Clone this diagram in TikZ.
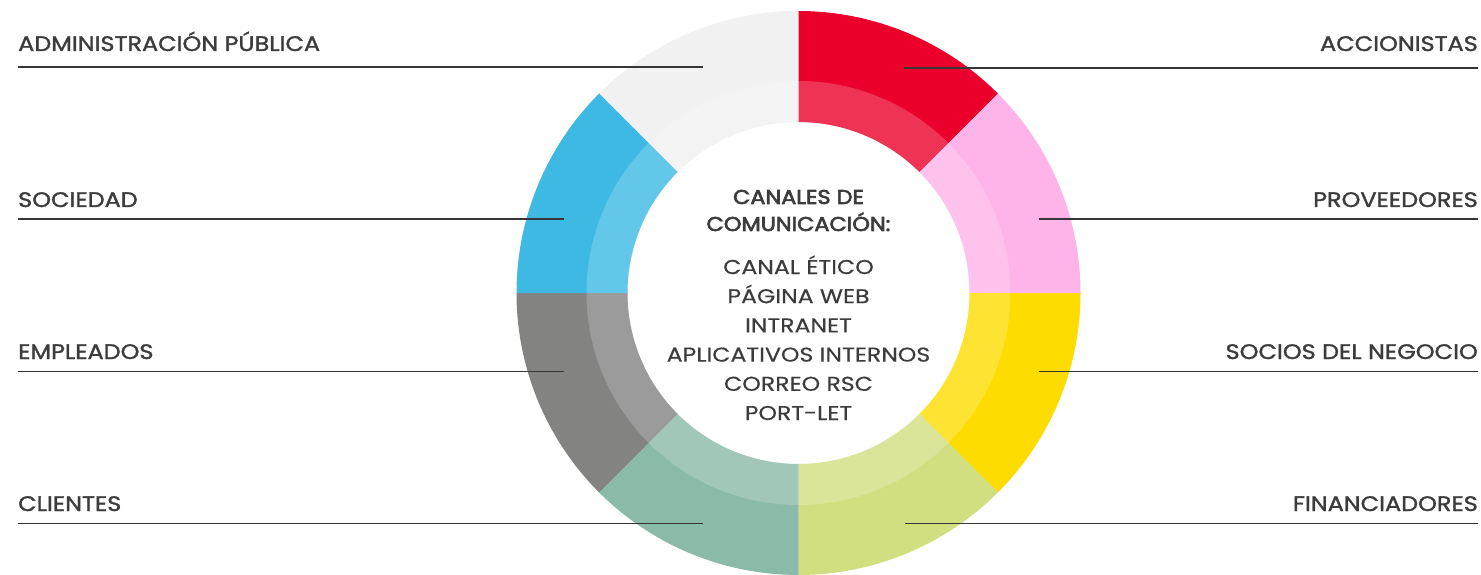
\documentclass[tikz,border=0pt]{standalone}
\usepackage{fontspec}
\setmainfont{Poppins}
\newfontfamily\lblfont{Poppins}[FakeStretch=1.14, FakeBold=1.4]
\newfontfamily\itemfont{Poppins}[FakeStretch=1.18, FakeBold=0.3]
\newfontfamily\headfont{Poppins}[FakeStretch=1.12, FakeBold=3.2]
\usetikzlibrary{calc}
\definecolor{txt}{HTML}{3C3C3C}
\definecolor{cAdm}{HTML}{F1F1F1}
\definecolor{cAcc}{HTML}{EA002A}
\definecolor{cPro}{HTML}{FEB3E9}
\definecolor{cSoc}{HTML}{FEDC00}
\definecolor{cFin}{HTML}{D1DF80}
\definecolor{cCli}{HTML}{8ABAA8}
\definecolor{cEmp}{HTML}{838382}
\definecolor{cSod}{HTML}{3DB9E4}
\newcommand\ringsector[3]{%
  \fill[#3] ($(c)+(#1:282)$) arc[start angle=#1, end angle=#2, radius=282]
    -- ($(c)+(#2:171)$) arc[start angle=#2, end angle=#1, radius=171] -- cycle;}
\tikzset{
  lbl/.style={font=\lblfont\fontsize{21}{21}\selectfont, text=txt, inner sep=0pt},
  lead/.style={draw=txt!90!black, line width=1.3pt},
  head/.style={font=\headfont\fontsize{20}{20}\selectfont, text=txt, inner sep=0pt, anchor=base},
  item/.style={font=\itemfont\fontsize{20}{20}\selectfont, text=txt, inner sep=0pt, anchor=base}
}
\begin{document}
\begin{tikzpicture}[x=1pt,y=1pt]
\clip (0,0) rectangle (1481,574);
\fill[white] (0,0) rectangle (1481,574);
\coordinate (c) at (798.5,281);
\ringsector{90}{135}{cAdm}
\ringsector{45}{90}{cAcc}
\ringsector{0}{45}{cPro}
\ringsector{-45}{0}{cSoc}
\ringsector{-90}{-45}{cFin}
\ringsector{-135}{-90}{cCli}
\ringsector{-180}{-135}{cEmp}
\ringsector{135}{180}{cSod}
\fill[white, opacity=0.2, even odd rule] (c) circle[radius=212] (c) circle[radius=171];
% labels left
\node[lbl, anchor=base west] (adm) at (18,523) {ADMINISTRACIÓN PÚBLICA};
\node[lbl, anchor=base west] (sod) at (18,367) {SOCIEDAD};
\node[lbl, anchor=base west] (emp) at (18,215) {EMPLEADOS};
\node[lbl, anchor=base west] (cli) at (18,63) {CLIENTES};
% labels right
\node[lbl, anchor=base east] (acc) at (1478,523) {ACCIONISTAS};
\node[lbl, anchor=base east] (pro) at (1478,367) {PROVEEDORES};
\node[lbl, anchor=base east] (soc) at (1478,215) {SOCIOS DEL NEGOCIO};
\node[lbl, anchor=base east] (fin) at (1478,63) {FINANCIADORES};
% leader end points
\coordinate (admS) at (18,507); \coordinate (admE) at (703,507);
\coordinate (sodS) at (18,355); \coordinate (sodE) at (564,355);
\coordinate (empS) at (18,202.5); \coordinate (empE) at (564,202.5);
\coordinate (cliS) at (18,50.5); \coordinate (cliE) at (703,50.5);
\coordinate (accS) at (904,506); \coordinate (accE) at (1478,506);
\coordinate (proS) at (1039,355); \coordinate (proE) at (1478,355);
\coordinate (socS) at (1039,202.5); \coordinate (socE) at (1478,202.5);
\coordinate (finS) at (905,50.5); \coordinate (finE) at (1478,50.5);
\draw[lead] (admS) -- (admE);
\draw[lead] (sodS) -- (sodE);
\draw[lead] (empS) -- (empE);
\draw[lead] (cliS) -- (cliE);
\draw[lead] (accS) -- (accE);
\draw[lead] (proS) -- (proE);
\draw[lead] (socS) -- (socE);
\draw[lead] (finS) -- (finE);
% centre text
\node[head] (h1) at (798.5,370) {CANALES DE};
\node[head] (h2) at (798.5,343) {COMUNICACIÓN:};
\node[item] (i1) at (798.5,300) {CANAL ÉTICO};
\node[item] (i2) at (798.5,270.8) {PÁGINA WEB};
\node[item] (i3) at (798.5,241.6) {INTRANET};
\node[item] (i4) at (798.5,212.4) {APLICATIVOS INTERNOS};
\node[item] (i5) at (798.5,183.2) {CORREO RSC};
\node[item] (i6) at (798.5,154) {PORT-LET};
\end{tikzpicture}
\end{document}
